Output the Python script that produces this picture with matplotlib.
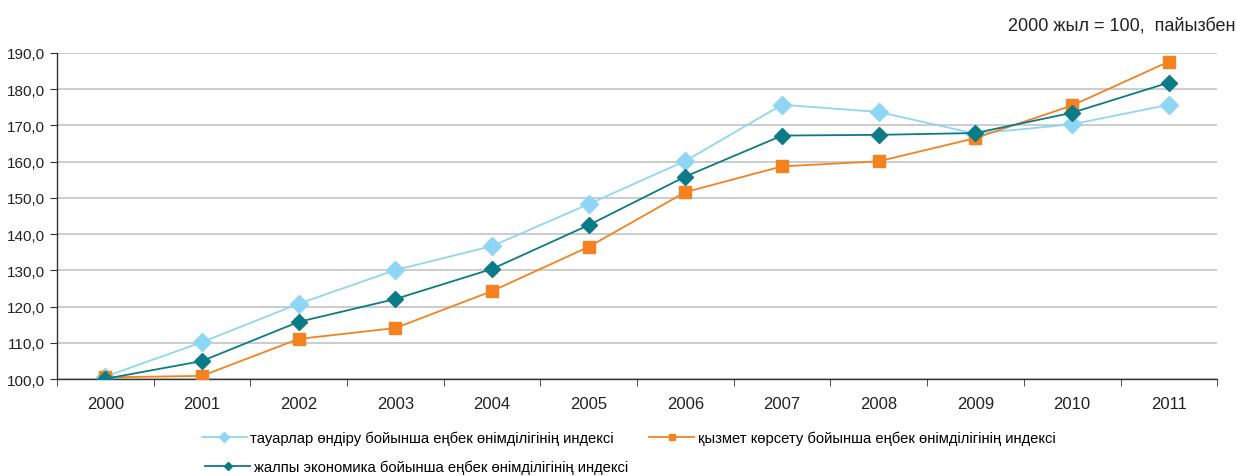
import matplotlib
matplotlib.use("Agg")
import matplotlib.pyplot as plt
from matplotlib.ticker import FixedLocator, FuncFormatter

plt.rcParams['font.family'] = ['Liberation Sans', 'DejaVu Sans']

# Data (2000 = 100)
years = ['2000', '2001', '2002', '2003', '2004', '2005', '2006',
         '2007', '2008', '2009', '2010', '2011']
goods = [100.7, 110.2, 120.8, 130.1, 136.7, 148.3, 160.2, 175.7, 173.7, 167.7, 170.3, 175.7]
services = [100.5, 100.9, 111.1, 114.1, 124.3, 136.5, 151.6, 158.7, 160.1, 166.5, 175.5, 187.6]
total = [100.1, 105.0, 115.8, 122.1, 130.4, 142.5, 155.9, 167.2, 167.4, 167.9, 173.5, 181.8]

labels = ['тауарлар өндіру бойынша еңбек өнімділігінің индексі',
          'қызмет көрсету бойынша еңбек өнімділігінің индексі',
          'жалпы экономика бойынша еңбек өнімділігінің индексі']

C_GOODS = '#8fd6f4'
C_SERV = '#f58220'
C_TOTAL = '#0b7b88'

fig = plt.figure(figsize=(12.37, 4.77), dpi=100)
ax = fig.add_axes([0.046, 0.203, 0.938, 0.684])

x = list(range(len(years)))
l1, = ax.plot(x, goods, color=C_GOODS, lw=1.3, marker='D', ms=9, mec=C_GOODS, zorder=3)
l2, = ax.plot(x, services, color=C_SERV, lw=1.3, marker='s', ms=9, mec=C_SERV, zorder=4)
l3, = ax.plot(x, total, color=C_TOTAL, lw=1.3, marker='D', ms=8, mec=C_TOTAL, zorder=5)

ax.set_xlim(-0.5, len(years) - 0.5)
ax.set_ylim(100, 190)
ax.set_yticks(range(100, 191, 10))
ax.yaxis.set_major_formatter(FuncFormatter(lambda v, p: f'{v:.1f}'.replace('.', ',')))
ax.grid(axis='y', color='#c8c8c8', lw=1.3)
ax.set_axisbelow(True)

ax.set_xticks(x)
ax.set_xticklabels(years)
ax.xaxis.set_minor_locator(FixedLocator([i - 0.5 for i in range(len(years) + 1)]))
ax.tick_params(axis='x', which='major', length=0, pad=12, labelsize=12, colors='#222222')
ax.tick_params(axis='x', which='minor', length=5, color='#333333', direction='out')
ax.tick_params(axis='y', length=5, color='#333333', labelsize=11, labelcolor='#222222')

for s in ['top', 'right']:
    ax.spines[s].set_visible(False)
for s in ['left', 'bottom']:
    ax.spines[s].set_color('#333333')
    ax.spines[s].set_linewidth(1.0)

fig.text(0.999, 0.945, '2000 жыл = 100,  пайызбен', ha='right', va='center',
         fontsize=13, color='#222222')

leg_kw = dict(frameon=False, fontsize=10.6, handlelength=3.05, handletextpad=0.25,
              borderaxespad=0, borderpad=0, markerscale=0.55)
fig.legend([l1], [labels[0]], loc='center left', bbox_to_anchor=(0.163, 0.080), **leg_kw)
fig.legend([l2], [labels[1]], loc='center left', bbox_to_anchor=(0.525, 0.080), **leg_kw)
fig.legend([l3], [labels[2]], loc='center left', bbox_to_anchor=(0.166, 0.019), **leg_kw)

fig.savefig('out.png', dpi=100)
